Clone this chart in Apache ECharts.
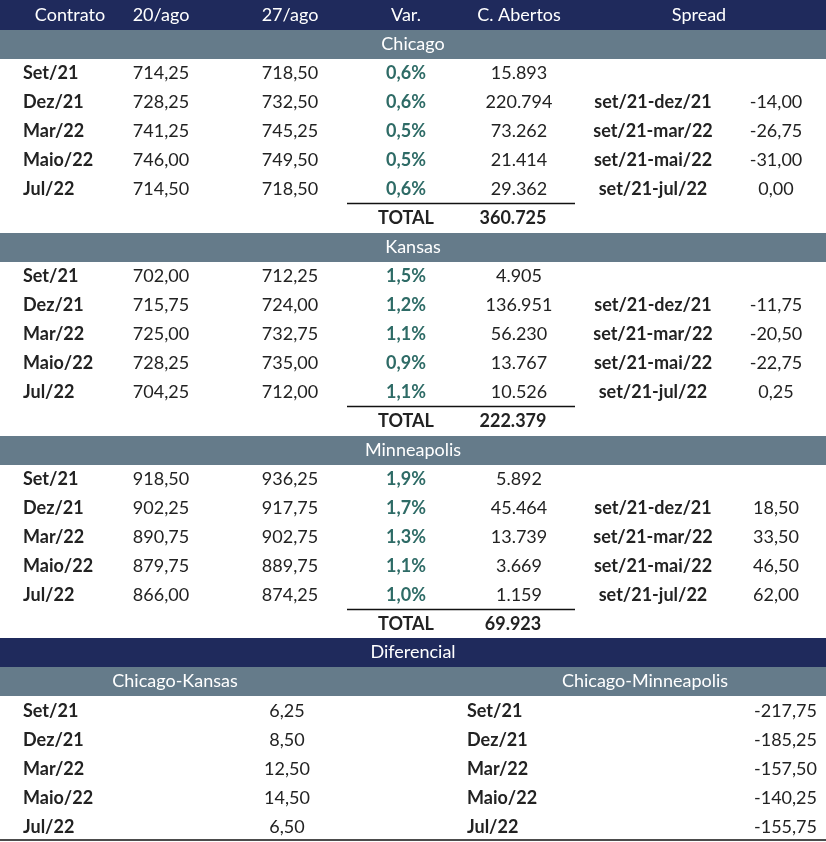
<!DOCTYPE html>
<html><head><meta charset="utf-8">
<script src="https://cdn.jsdelivr.net/npm/echarts@6/dist/echarts.min.js"></script>
<style>html,body{margin:0;background:#fff}#main{width:826px;height:842px}</style>
</head><body><div id="main"></div>
<script>
const headers = ["Contrato", "20/ago", "27/ago", "Var.", "C. Abertos", "Spread"];
const contracts = ["Set/21", "Dez/21", "Mar/22", "Maio/22", "Jul/22"];
const spreadLabels = ["", "set/21-dez/21", "set/21-mar/22", "set/21-mai/22", "set/21-jul/22"];
const markets = ["Chicago", "Kansas", "Minneapolis"];
const price20 = [
  ["714,25", "728,25", "741,25", "746,00", "714,50"],
  ["702,00", "715,75", "725,00", "728,25", "704,25"],
  ["918,50", "902,25", "890,75", "879,75", "866,00"]
];
const price27 = [
  ["718,50", "732,50", "745,25", "749,50", "718,50"],
  ["712,25", "724,00", "732,75", "735,00", "712,00"],
  ["936,25", "917,75", "902,75", "889,75", "874,25"]
];
const variation = [
  ["0,6%", "0,6%", "0,5%", "0,5%", "0,6%"],
  ["1,5%", "1,2%", "1,1%", "0,9%", "1,1%"],
  ["1,9%", "1,7%", "1,3%", "1,1%", "1,0%"]
];
const openInterest = [
  ["15.893", "220.794", "73.262", "21.414", "29.362"],
  ["4.905", "136.951", "56.230", "13.767", "10.526"],
  ["5.892", "45.464", "13.739", "3.669", "1.159"]
];
const totals = ["360.725", "222.379", "69.923"];
const spreads = [
  ["", "-14,00", "-26,75", "-31,00", "0,00"],
  ["", "-11,75", "-20,50", "-22,75", "0,25"],
  ["", "18,50", "33,50", "46,50", "62,00"]
];
const diffTitles = ["Chicago-Kansas", "Chicago-Minneapolis"];
const diffChiKan = ["6,25", "8,50", "12,50", "14,50", "6,50"];
const diffChiMin = ["-217,75", "-185,25", "-157,50", "-140,25", "-155,75"];

const NAVY = "#1f2a5c", GREY = "#657b8a", TEAL = "#2e6b66", INK = "#222";
const FONT = "Lato";
const g = [];
function rect(y, h, fill) {
  g.push({ type: "rect", shape: { x: 0, y: y, width: 826, height: h }, style: { fill: fill } });
}
function text(x, y, s, opt = {}) {
  g.push({ type: "text", x: x, y: y, style: {
    text: s, fill: opt.fill || INK, font: (opt.bold ? "bold " : "") + "18px " + FONT,
    align: opt.align || "center", verticalAlign: "middle" } });
}
function line(x1, x2, y, w) {
  g.push({ type: "line", shape: { x1: x1, y1: y, x2: x2, y2: y }, style: { stroke: "#111", lineWidth: w || 1.5 } });
}

rect(0, 30, NAVY);
[[70, headers[0]], [161, headers[1]], [290, headers[2]], [406, headers[3]], [519, headers[4]], [699, headers[5]]]
  .forEach(([x, s]) => text(x, 15, s, { fill: "#fff" }));

const ROW = 29;
markets.forEach((m, k) => {
  const top = 30 + k * 203;
  rect(top, 29, GREY);
  text(413, top + 14.5, m, { fill: "#fff" });
  contracts.forEach((c, i) => {
    const y = top + 43 + i * ROW;
    text(23, y, c, { bold: true, align: "left" });
    text(161, y, price20[k][i]);
    text(290, y, price27[k][i]);
    text(406, y, variation[k][i], { bold: true, fill: TEAL });
    text(519, y, openInterest[k][i]);
    if (spreadLabels[i]) {
      text(653, y, spreadLabels[i], { bold: true });
      text(776, y, spreads[k][i]);
    }
  });
  const ty = top + 43 + 5 * ROW;
  line(347, 575, ty - 14.5);
  text(406, ty, "TOTAL", { bold: true });
  text(513, ty, totals[k], { bold: true });
});

rect(638, 29, NAVY);
text(413, 652, "Diferencial", { fill: "#fff" });
rect(667, 29, GREY);
text(175, 681, diffTitles[0], { fill: "#fff" });
text(645, 681, diffTitles[1], { fill: "#fff" });
contracts.forEach((c, i) => {
  const y = 711 + i * ROW;
  text(23, y, c, { bold: true, align: "left" });
  text(287, y, diffChiKan[i]);
  text(467, y, c, { bold: true, align: "left" });
  text(817, y, diffChiMin[i], { align: "right" });
});
line(0, 826, 840, 1.5);

const chart = echarts.init(document.getElementById("main"));
chart.setOption({ backgroundColor: "#fff", graphic: g });
</script></body></html>
